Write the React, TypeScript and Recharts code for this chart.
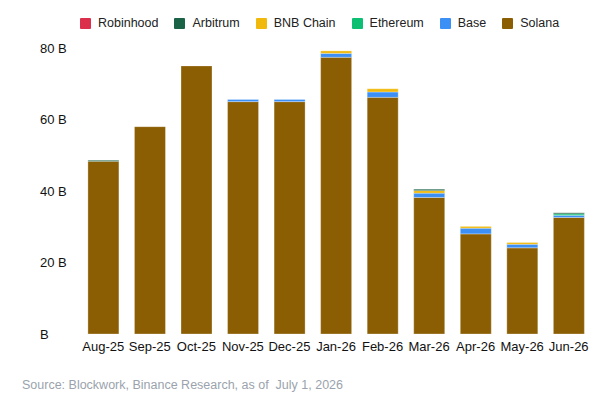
import React from 'react';
import { BarChart, Bar, XAxis, YAxis } from 'recharts';

const months = ['Aug-25','Sep-25','Oct-25','Nov-25','Dec-25','Jan-26','Feb-26','Mar-26','Apr-26','May-26','Jun-26'];
const solana = [48.3,58,75,65,65,77.4,66.2,38.2,28.0,24.1,32.6];
const base = [0,0,0,0.6,0.6,1.1,1.5,1.2,1.6,1.0,0.6];
const ethereum = [0,0,0,0,0,0,0,0,0,0,0.4];
const bnb = [0,0,0,0,0,0.7,0.9,0.7,0.5,0.5,0];
const arbitrum = [0.3,0,0,0,0,0,0,0.4,0,0,0.3];
const robinhood = [0,0,0,0,0,0,0,0,0,0,0];
const yTicks = [0,20,40,60,80];

const data = months.map((m,i)=>({m, solana:solana[i], base:base[i], ethereum:ethereum[i], bnb:bnb[i], arbitrum:arbitrum[i], robinhood:robinhood[i]}));

const series = [
  {k:'solana', n:'Solana', c:'#8B5E03'},
  {k:'base', n:'Base', c:'#3B8FF5'},
  {k:'ethereum', n:'Ethereum', c:'#0DBF73'},
  {k:'bnb', n:'BNB Chain', c:'#F0B90B'},
  {k:'arbitrum', n:'Arbitrum', c:'#1B6347'},
  {k:'robinhood', n:'Robinhood', c:'#DC2F4C'},
];
const legendOrder = ['robinhood','arbitrum','bnb','ethereum','base','solana'];

export default function App(){
  return (
    <div style={{position:'absolute',left:0,top:0,width:614,height:404,background:'#fff',fontFamily:'"Liberation Sans", Arial, sans-serif'}}>
      <div style={{position:'absolute',left:80,top:16,display:'flex',gap:16,fontSize:12.5,color:'#222'}}>
        {legendOrder.map(k=>{const s=series.find(x=>x.k===k)!;return (
          <div key={k} style={{display:'flex',alignItems:'center',gap:7}}>
            <span style={{display:'inline-block',width:11,height:11,background:s.c,borderRadius:1}}/>
            <span>{s.n}</span>
          </div>);})}
      </div>
      <BarChart width={614} height={364} data={data} margin={{top:48,right:22,left:40,bottom:0}} barCategoryGap="17%">
        <XAxis dataKey="m" axisLine={false} tickLine={false} tick={{fill:'#111',fontSize:13}} interval={0} />
        <YAxis ticks={yTicks} domain={[0,80]} axisLine={false} tickLine={false} width={40}
          tick={{fill:'#111',fontSize:13,textAnchor:'start'}} dx={-32}
          tickFormatter={(v)=> v===0 ? 'B' : `${v} B`} />
        {series.map(s=>(
          <Bar key={s.k} dataKey={s.k} name={s.n} stackId="a" fill={s.c} stroke="#fff" strokeOpacity={0.6} strokeWidth={0.5} isAnimationActive={false} />
        ))}
      </BarChart>
      <div style={{position:'absolute',left:22,top:378,fontSize:12.5,color:'#9aa3ad'}}>Source: Blockwork, Binance Research, as of&nbsp; July 1, 2026</div>
    </div>
  );
}
